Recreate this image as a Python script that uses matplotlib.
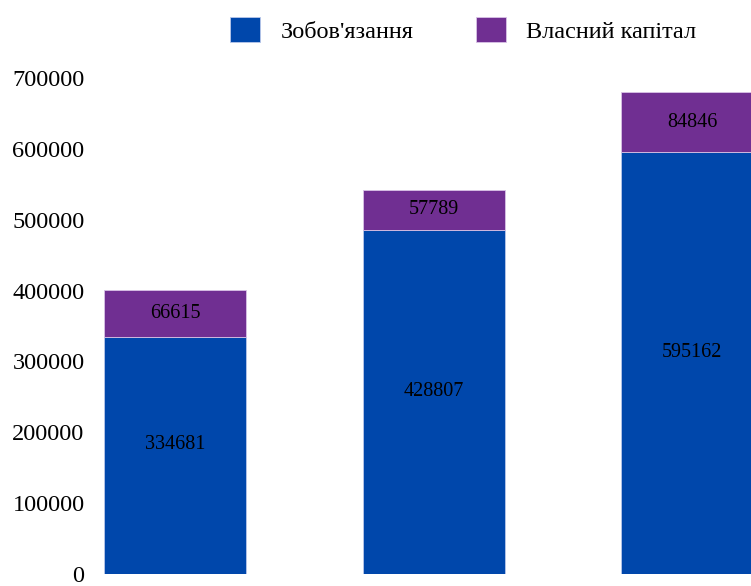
import matplotlib.pyplot as plt
import numpy as np

# --- Data ---
years = ["2019", "2020", "2021"]
liabilities = [334681, 484807, 595162]
equity = [66615, 57789, 84846]
liab_labels = ["334681", "428807", "595162"]
equity_labels = ["66615", "57789", "84846"]
yticks = [0, 100000, 200000, 300000, 400000, 500000, 600000, 700000]

blue = "#0047ab"
purple = "#702f92"

plt.rcParams['font.family'] = ['Liberation Serif', 'DejaVu Serif']

# --- Plot ---
fig = plt.figure(figsize=(7.51, 5.86), dpi=100)
ax = fig.add_axes([0.12, 0.0205, 0.88, 0.8464])

x = np.arange(len(years))
w = 0.549
b1 = ax.bar(x, liabilities, w, color=blue, edgecolor="#b9c8ea", linewidth=0.6,
            label="Зобов'язання")
b2 = ax.bar(x, equity, w, bottom=liabilities, color=purple, edgecolor="#d9c3e6",
            linewidth=0.6, label="Власний капітал")

for i in range(len(x)):
    ax.annotate(liab_labels[i], (x[i], liabilities[i] / 2), xytext=(0, 8),
                textcoords="offset points", ha="center", va="center", fontsize=14.5)
    ax.annotate(equity_labels[i], (x[i], liabilities[i] + equity[i] / 2),
                ha="center", va="center", fontsize=14.5)

ax.set_xlim(-0.329, 2.228)
ax.set_ylim(0, 700000)
ax.set_yticks(yticks)
ax.set_yticklabels([str(v) for v in yticks], fontsize=17.5)
ax.set_xticks([])
ax.tick_params(axis="y", length=0, pad=4)
for s in ax.spines.values():
    s.set_visible(False)

fig.legend(handles=[b1, b2], loc="center", bbox_to_anchor=(0.617, 0.949), ncol=2,
           frameon=False, fontsize=17.5, handlelength=1.2, handleheight=1.2,
           handletextpad=0.85, columnspacing=2.6)

# --- Render ---
plt.savefig("out.png", dpi=100)
plt.close()
